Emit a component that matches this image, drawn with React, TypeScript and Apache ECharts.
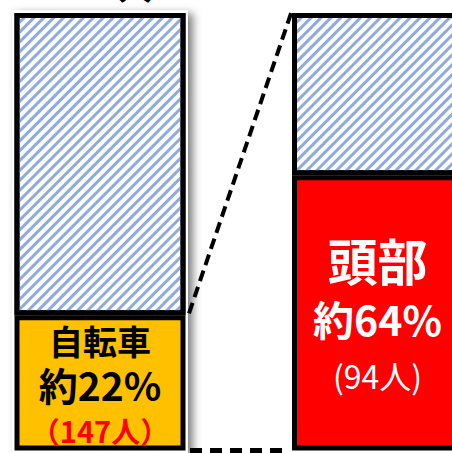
import React, { useEffect, useRef } from "react";
import * as echarts from "echarts";

// Categories (two stacked bars)
const categories = ["全体", "自転車の内訳"];
// Segment heights as drawn in the picture (share of the bar height, %)
const lowerHeights = [30.9, 62.9];
const upperHeights = [69.1, 37.1];
// Label texts
const lowerNames = ["自転車", "頭部"];
const lowerPercents = [22, 64];
const lowerCounts = [147, 94];
const totalLabel = "662人";

const JP = '"Noto Sans CJK JP", "Noto Sans", sans-serif';
const BAR_W = 171;
const BORDER = 5;

export default function App() {
  const ref = useRef<HTMLDivElement>(null);
  useEffect(() => {
    if (!ref.current) return;
    const chart = echarts.init(ref.current, null, { renderer: "svg" });
    const hatch = {
      symbol: "rect",
      symbolSize: 1,
      color: "#8faadc",
      dashArrayX: [1, 0],
      dashArrayY: [2.8, 3.2],
      rotation: -Math.PI / 4,
    };
    const lowerData = lowerHeights.map((v, i) => ({
      value: v,
      itemStyle: i === 0 ? { color: "#ffc000" } : { color: "#ff0000" },
      label:
        i === 0
          ? {
              show: true,
              position: "inside",
              padding: [8, 0, 0, 0],
              formatter: `{a|${lowerNames[i]}}\n{b|約${lowerPercents[i]}%}\n{c|（${lowerCounts[i]}人）}`,
              rich: {
                a: { fontFamily: JP, fontWeight: "bold", fontSize: 34, color: "#000", lineHeight: 43, align: "center" },
                b: { fontFamily: JP, fontWeight: "bold", fontSize: 39, color: "#000", lineHeight: 44, align: "center" },
                c: { fontFamily: JP, fontWeight: "bold", fontSize: 29, color: "#ff0000", lineHeight: 49, align: "center" },
              },
            }
          : {
              show: true,
              position: "inside",
              padding: [6, 0, 0, 0],
              formatter: `{a|${lowerNames[i]}}\n{b|約${lowerPercents[i]}%}\n{c|(${lowerCounts[i]}人)}`,
              rich: {
                a: { fontFamily: JP, fontWeight: "bold", fontSize: 50, color: "#fff", lineHeight: 60, align: "center" },
                b: { fontFamily: JP, fontWeight: "bold", fontSize: 41, color: "#fff", lineHeight: 58, align: "center" },
                c: { fontFamily: JP, fontWeight: "normal", fontSize: 32, color: "#fff", lineHeight: 56, align: "center" },
              },
            },
    }));
    const upperData = upperHeights.map((v) => ({
      value: v,
      itemStyle: { color: "#ffffff", decal: hatch },
    }));
    chart.setOption({
      animation: false,
      grid: { left: -38.75, right: -64.25, top: 13, bottom: 2.5, outerBoundsMode: "none", containLabel: false },
      xAxis: { type: "category", data: categories, show: false },
      yAxis: { type: "value", min: 0, max: 100, show: false },
      series: [
        {
          type: "bar",
          stack: "s",
          barWidth: BAR_W,
          data: lowerData,
          itemStyle: { borderColor: "#000", borderWidth: BORDER },
        },
        {
          type: "bar",
          stack: "s",
          barWidth: BAR_W,
          data: upperData,
          itemStyle: { borderColor: "#000", borderWidth: BORDER },
        },
      ],
    });
    const xL = chart.convertToPixel({ xAxisIndex: 0 }, categories[0]) as number;
    const xR = chart.convertToPixel({ xAxisIndex: 0 }, categories[1]) as number;
    const yDiv = chart.convertToPixel({ yAxisIndex: 0 }, lowerHeights[0]) as number;
    const yTop = chart.convertToPixel({ yAxisIndex: 0 }, 100) as number;
    const yBot = chart.convertToPixel({ yAxisIndex: 0 }, 0) as number;
    const half = BAR_W / 2 + BORDER / 2;
    chart.setOption({
      graphic: [
        {
          type: "rect",
          shape: { x: xL - half, y: yTop - BORDER / 2, width: 2 * half, height: yBot - yTop + BORDER },
          style: {
            fill: "#fff",
            shadowBlur: 8,
            shadowColor: "rgba(0,0,0,0.5)",
            shadowOffsetX: 5,
            shadowOffsetY: 3,
          },
          z: 0,
          silent: true,
        },
        {
          type: "line",
          shape: { x1: xL + half + 1, y1: yDiv - 2, x2: xR - half + 2, y2: yTop - 1 },
          style: { stroke: "#000", lineWidth: 4, lineDash: [11, 6] },
          z: 10,
        },
        {
          type: "line",
          shape: { x1: xL + half + 2, y1: yBot, x2: xR - half, y2: yBot },
          style: { stroke: "#000", lineWidth: 5, lineDash: [12, 8] },
          z: 10,
        },
        {
          type: "text",
          x: xL + 5,
          y: yTop - 10.5,
          style: {
            text: totalLabel,
            fontFamily: JP,
            fontWeight: "bold",
            fontSize: 34,
            fill: "#000",
            align: "center",
            verticalAlign: "bottom",
          },
          z: 10,
        },
      ],
    });
    return () => chart.dispose();
  }, []);
  return (
    <div
      ref={ref}
      style={{ position: "fixed", left: 0, top: 0, width: 452, height: 453, background: "#fff" }}
    />
  );
}
